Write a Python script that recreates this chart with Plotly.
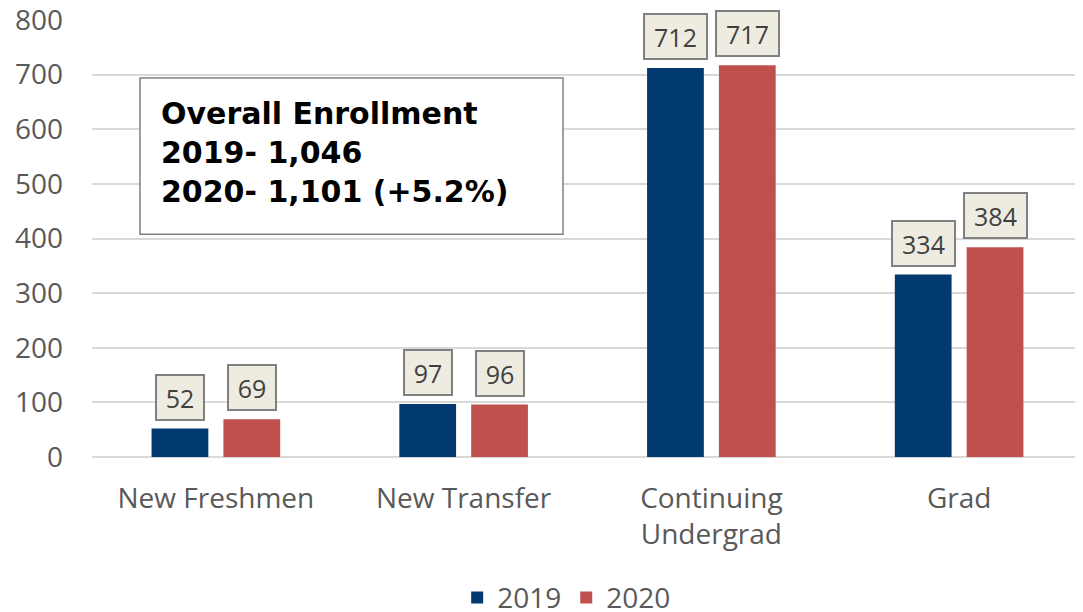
import plotly.graph_objects as go

CATEGORIES = ["New Freshmen", "New Transfer", "Continuing<br>Undergrad", "Grad"]
VALUES_2019 = [52, 97, 712, 334]
VALUES_2020 = [69, 96, 717, 384]
SERIES = [("2019", VALUES_2019, '#003a70', -36), ("2020", VALUES_2020, '#c0504d', 36)]
SUMMARY = "<b>Overall Enrollment<br>2019- 1,046<br>2020- 1,101 (+5.2%)</b>"

FONT = 'Open Sans, sans-serif'

fig = go.Figure()
for name, vals, color, _ in SERIES:
    fig.add_trace(go.Bar(
        x=CATEGORIES, y=vals, name=name,
        marker=dict(color=color, line=dict(width=0)),
    ))

# boxed data labels above each bar
for name, vals, color, shift in SERIES:
    for cat, v in zip(CATEGORIES, vals):
        fig.add_annotation(
            x=cat, y=v, xref='x', yref='y', text=str(v),
            xshift=shift, yshift=8, yanchor='bottom', showarrow=False,
            width=15 * len(str(v)) + 8, height=35,
            font=dict(family=FONT, size=25, color='#404040'),
            bgcolor='#eeece1', bordercolor='#808080', borderwidth=2, borderpad=4,
        )

# summary box
fig.add_shape(type='rect', xref='paper', yref='paper',
              x0=0.0484, x1=0.4753, y0=0.510, y1=0.867,
              line=dict(color='#808080', width=1.5), fillcolor='white', layer='above')
fig.add_annotation(
    x=0.068, y=0.697, xref='paper', yref='paper', xanchor='left', yanchor='middle',
    text=SUMMARY, showarrow=False, align='left',
    font=dict(family='DejaVu Sans, sans-serif', size=30, color='#000000'),
)

# the page body adds an 8px offset, so margins are shifted to compensate;
# figure is taller than the window so the legend does not squeeze the plot
fig.update_layout(
    width=1083, height=632,
    margin=dict(t=12, r=8, b=183, l=84),
    paper_bgcolor='white', plot_bgcolor='white',
    font=dict(family=FONT, size=28, color='#595959'),
    barmode='group', bargap=0.42, bargroupgap=0.21,
    showlegend=True,
    legend=dict(orientation='h', x=0.479, xanchor='center', y=-0.322, yanchor='middle',
                font=dict(size=28, color='#595959'), itemwidth=30),
    xaxis=dict(showgrid=False, showline=False, ticks='', automargin=False,
               ticklabelstandoff=22, tickfont=dict(size=28)),
    yaxis=dict(range=[0, 800], dtick=100, gridcolor='#d9d9d9', gridwidth=1.5,
               zeroline=True, zerolinecolor='#d9d9d9', zerolinewidth=1.5,
               showline=False, ticks='', automargin=False, ticklabelstandoff=28,
               ticklabeloverflow='allow', tickfont=dict(size=28)),
)

fig.write_html("out.html")
